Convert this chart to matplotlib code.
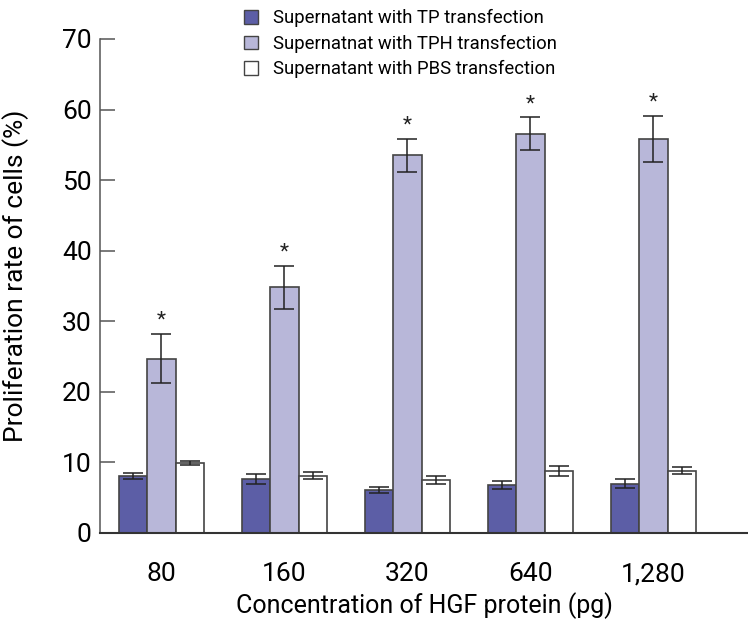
import numpy as np
import matplotlib.pyplot as plt
from matplotlib.patches import Patch

plt.rcParams['font.family'] = ['Liberation Sans Narrow', 'Roboto', 'DejaVu Sans']

# Data
concentrations = ['80', '160', '320', '640', '1,280']
series_names = ['Supernatant with TP transfection',
                'Supernatnat with TPH transfection',
                'Supernatant with PBS transfection']
tp_mean = [8.1, 7.7, 6.1, 6.8, 7.0]
tp_err = [0.4, 0.7, 0.4, 0.6, 0.7]
tph_mean = [24.7, 34.8, 53.5, 56.6, 55.8]
tph_err = [3.5, 3.0, 2.3, 2.3, 3.3]
pbs_mean = [9.9, 8.1, 7.5, 8.8, 8.8]
pbs_err = [0.3, 0.5, 0.5, 0.7, 0.5]

colors = ['#5c5ea6', '#b8b7d9', '#ffffff']
edge = '#444444'

fig = plt.figure(figsize=(7.48, 6.24), dpi=100)
ax = fig.add_axes([0.1337, 0.146, 0.8663, 0.7915])

x = np.arange(len(concentrations))
w = 0.232
means = [tp_mean, tph_mean, pbs_mean]
errs = [tp_err, tph_err, pbs_err]
for i in range(3):
    ax.bar(x + (i - 1) * w, means[i], w, color=colors[i], edgecolor=edge,
           linewidth=1.2, yerr=errs[i], capsize=7,
           error_kw=dict(ecolor='#222222', elinewidth=1.1, capthick=1.1))

# significance stars over TPH bars
for xi, m, e in zip(x, tph_mean, tph_err):
    ax.text(xi, m + e + 0.6, '*', ha='center', va='bottom', fontsize=15,
            color='#222222')

ax.set_xlim(-0.5, 4.77)
ax.set_ylim(0, 70)
ax.set_yticks(range(0, 71, 10))
ax.set_xticks(x)
ax.set_xticklabels(concentrations)
ax.tick_params(axis='y', direction='in', length=11, width=1.1, color='#555555',
               labelsize=19, pad=6)
ax.tick_params(axis='x', length=0, labelsize=19, pad=21)
for s in ['top', 'right']:
    ax.spines[s].set_visible(False)
ax.spines['left'].set_color('#555555')
ax.spines['left'].set_linewidth(1.1)
ax.spines['bottom'].set_color('#333333')
ax.spines['bottom'].set_linewidth(1.5)

ax.set_ylabel('Proliferation rate of cells (%)', fontsize=19, va='center')
ax.yaxis.set_label_coords(-0.13, 0.52)
ax.set_xlabel('Concentration of HGF protein (pg)', fontsize=18, va='center')
ax.xaxis.set_label_coords(0.5, -0.148)

handles = [Patch(facecolor=c, edgecolor=edge, linewidth=1.0) for c in colors]
fig.legend(handles, series_names, loc='upper left',
           bbox_to_anchor=(0.304, 1.012), frameon=False, fontsize=13.3,
           handlelength=0.75, handleheight=0.75, handletextpad=0.8,
           labelspacing=0.4)

fig.savefig('out.png', dpi=100)
